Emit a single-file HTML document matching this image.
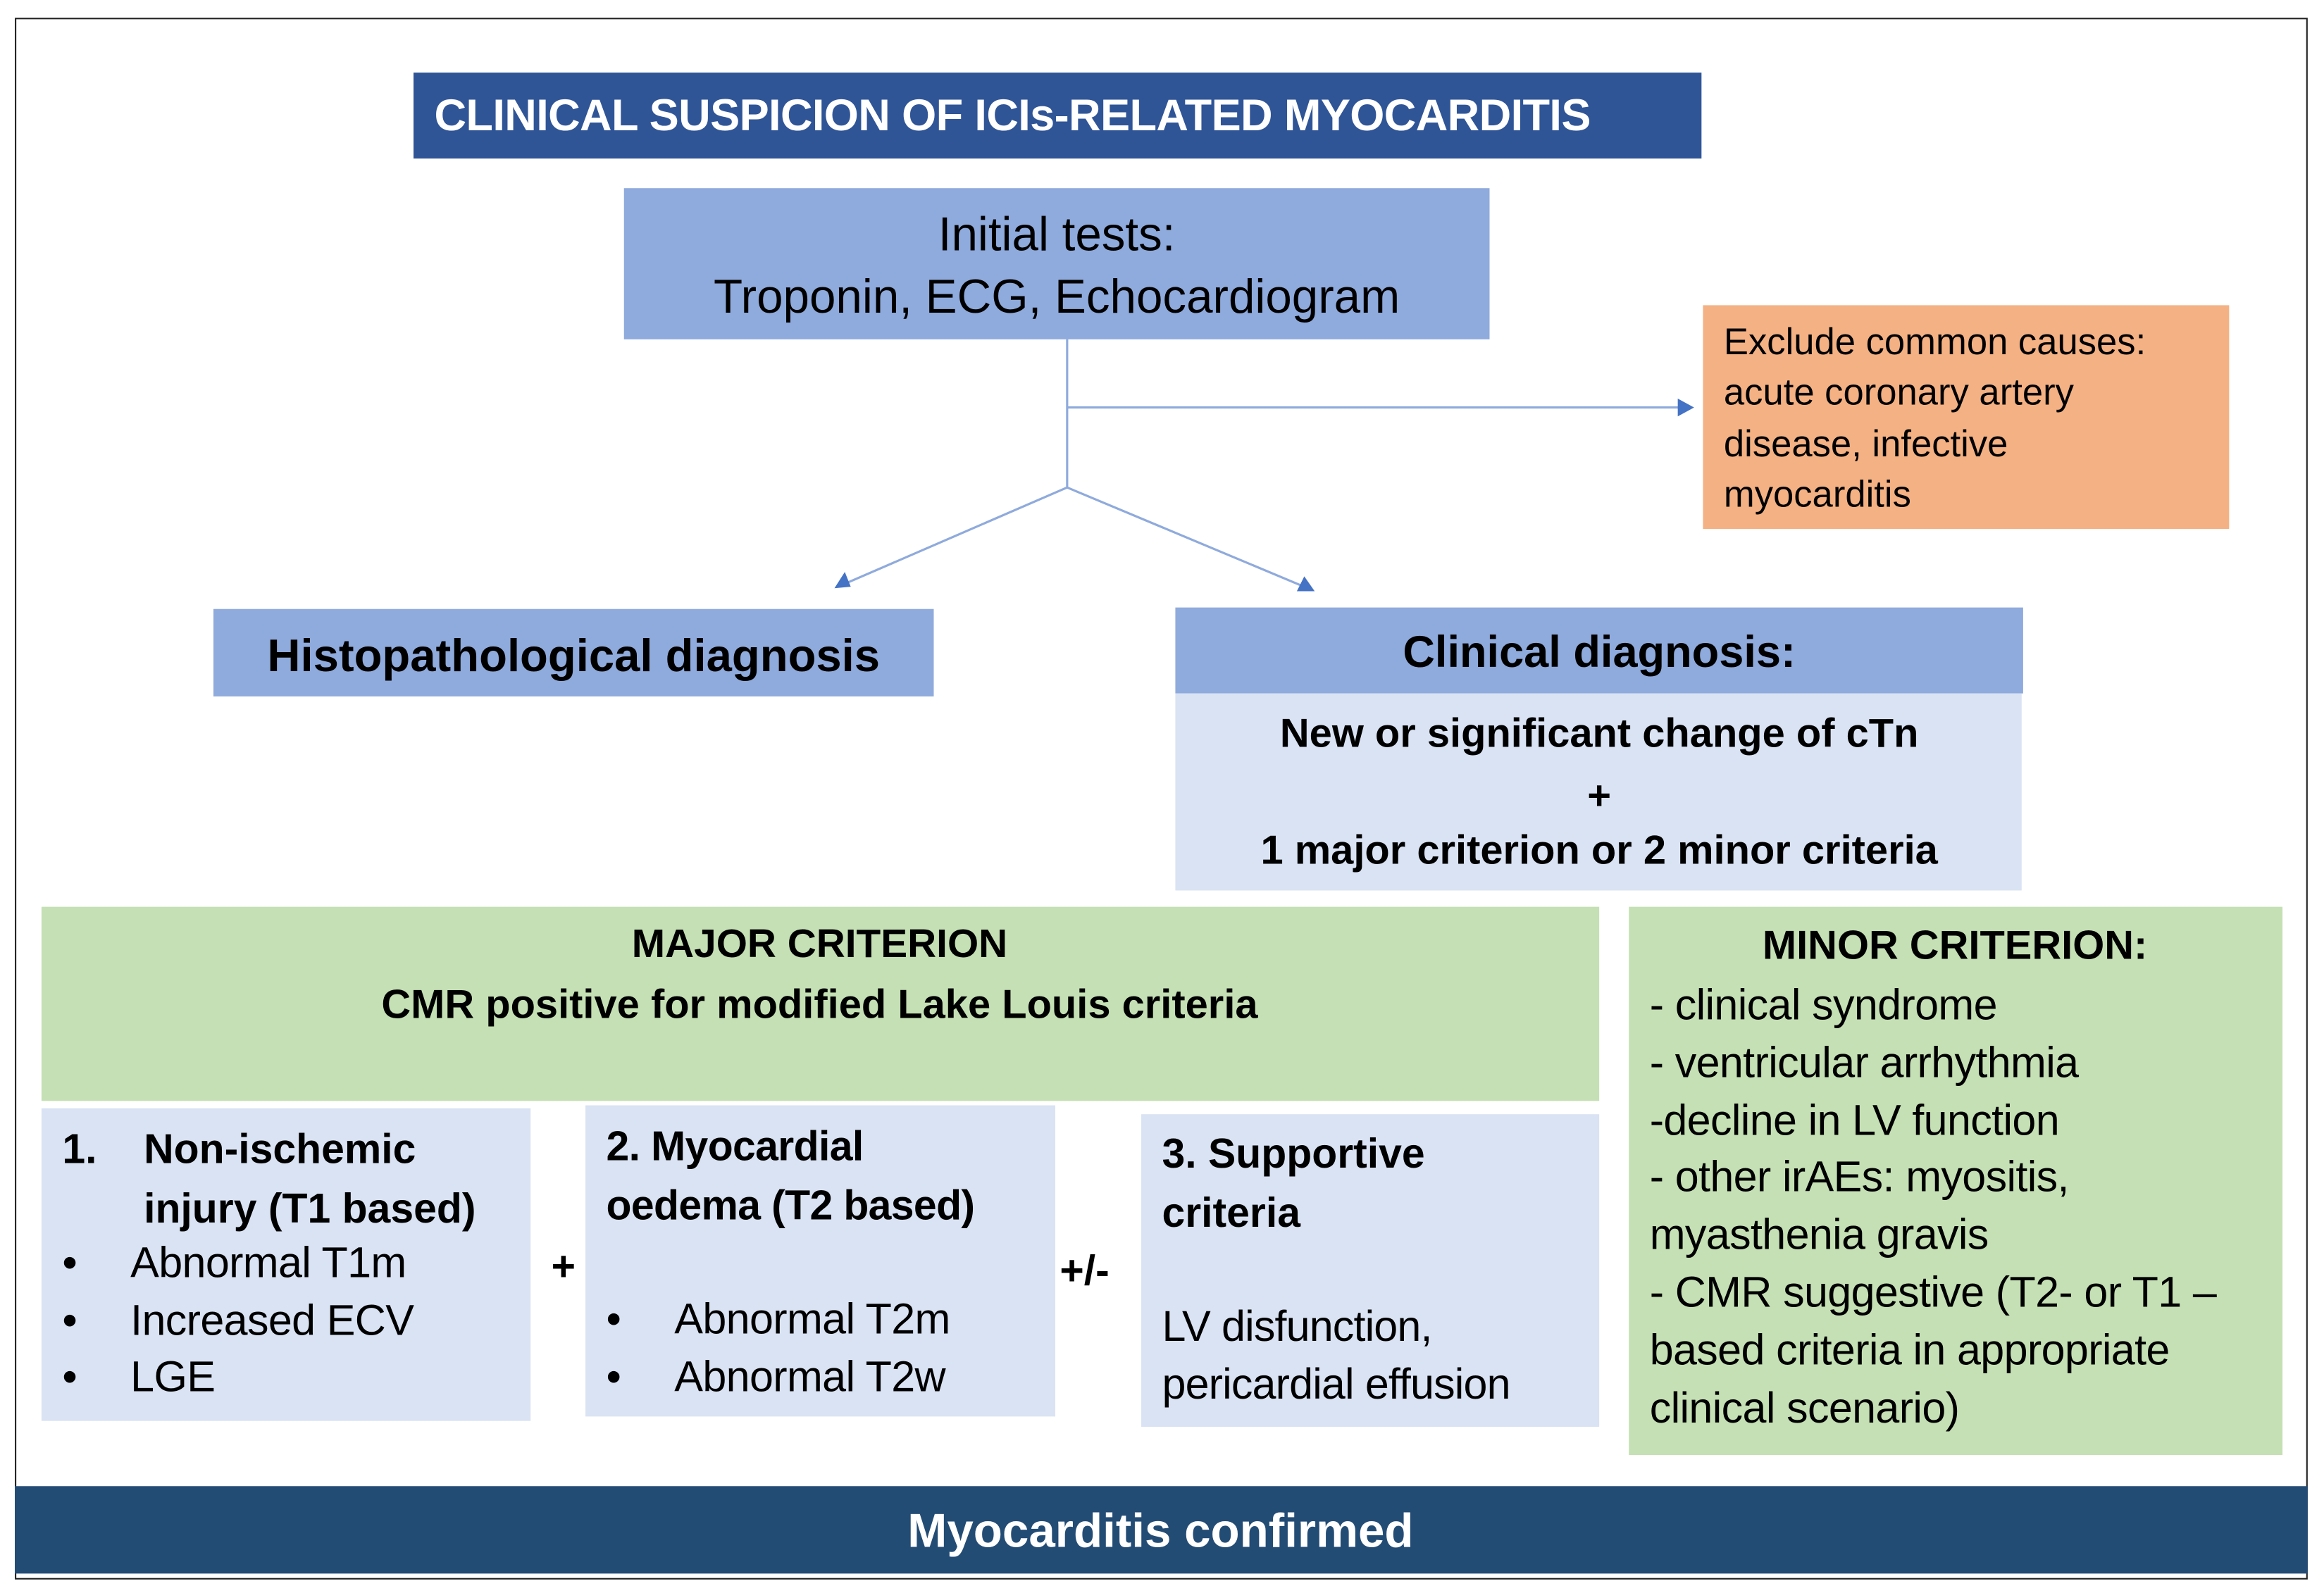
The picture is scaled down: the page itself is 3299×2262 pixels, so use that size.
<!DOCTYPE html>
<html><head><meta charset="utf-8"><style>
html,body{margin:0;padding:0;background:#fff;}
body{width:3299px;height:2262px;overflow:hidden;position:relative;}
#w{position:absolute;left:0;top:0;width:1568px;height:1075px;transform:scale(2.10395);transform-origin:0 0;font-family:"Liberation Sans",sans-serif;color:#000;}
.b{position:absolute;box-sizing:border-box;}
.t{position:absolute;white-space:nowrap;line-height:1;}
.c{transform:translateX(-50%);}
.bold{font-weight:bold;}
.bl{display:inline-block;width:46px;}
</style></head><body><div id="w">
<div class="b" style="left:10px;top:12px;width:1547px;height:1054px;border:1.5px solid #222;"></div>
<div class="b" style="left:279px;top:49px;width:869px;height:58px;background:#2F5597;"></div>
<div class="t bold" style="left:293px;top:64px;font-size:30px;color:#fff;letter-spacing:-0.3px;">CLINICAL SUSPICION OF ICIs-RELATED MYOCARDITIS</div>
<div class="b" style="left:421px;top:127px;width:584px;height:102px;background:#8FAADC;"></div>
<div class="t c" style="left:713px;top:142px;font-size:32px;">Initial tests:</div>
<div class="t c" style="left:713px;top:184px;font-size:32px;">Troponin, ECG, Echocardiogram</div>
<svg style="position:absolute;left:0;top:0" width="1568" height="1075">
<g stroke="#8FAADC" stroke-width="1.5" fill="none">
<line x1="720" y1="229" x2="720" y2="329"/>
<line x1="720" y1="275" x2="1133" y2="275"/>
<line x1="720" y1="329" x2="570" y2="394"/>
<line x1="720" y1="329" x2="880" y2="396"/>
</g>
<g fill="#4472C4">
<polygon points="1143,275 1132,269 1132,281"/>
<polygon points="563,397 574,396 570,386"/>
<polygon points="887,399 875,399 880,389"/>
</g>
</svg>
<div class="b" style="left:1149px;top:206px;width:355px;height:151px;background:#F4B183;"></div>
<div class="t" style="left:1163px;top:214px;font-size:25px;line-height:34.4px;">Exclude common causes:<br>acute coronary artery<br>disease, infective<br>myocarditis</div>
<div class="b" style="left:144px;top:411px;width:486px;height:59px;background:#8FAADC;"></div>
<div class="t c bold" style="left:387px;top:427px;font-size:31px;">Histopathological diagnosis</div>
<div class="b" style="left:793px;top:410px;width:572px;height:58px;background:#8FAADC;"></div>
<div class="t c bold" style="left:1079px;top:426px;font-size:30px;">Clinical diagnosis:</div>
<div class="b" style="left:793px;top:468px;width:571px;height:133px;background:#DAE3F3;"></div>
<div class="t c bold" style="left:1079px;top:481px;font-size:27.5px;">New or significant change of cTn</div>
<div class="t c bold" style="left:1079px;top:523px;font-size:27.5px;">+</div>
<div class="t c bold" style="left:1079px;top:560px;font-size:27.5px;">1 major criterion or 2 minor criteria</div>
<div class="b" style="left:28px;top:612px;width:1051px;height:131px;background:#C5E0B4;"></div>
<div class="t c bold" style="left:553px;top:624px;font-size:27px;">MAJOR CRITERION</div>
<div class="t c bold" style="left:553px;top:664px;font-size:27.5px;">CMR positive for modified Lake Louis criteria</div>
<div class="b" style="left:1099px;top:612px;width:441px;height:370px;background:#C5E0B4;"></div>
<div class="t c bold" style="left:1319px;top:624px;font-size:27.5px;">MINOR CRITERION:</div>
<div class="t" style="left:1113px;top:660px;font-size:29px;line-height:38.8px;letter-spacing:-0.3px;">- clinical syndrome<br>- ventricular arrhythmia<br>-decline in LV function<br>- other irAEs: myositis,<br>myasthenia gravis<br>- CMR suggestive (T2- or T1 –<br>based criteria in appropriate<br>clinical scenario)</div>
<div class="b" style="left:28px;top:748px;width:330px;height:211px;background:#DAE3F3;"></div>
<div class="t bold" style="left:42px;top:756px;font-size:28px;line-height:40px;"><span style="display:inline-block;width:55px">1.</span>Non-ischemic<br><span style="padding-left:55px">injury (T1 based)</span></div>
<div class="t" style="left:42px;top:834px;font-size:29px;line-height:38.5px;letter-spacing:-0.3px;"><span class="bl">•</span>Abnormal T1m<br><span class="bl">•</span>Increased ECV<br><span class="bl">•</span>LGE</div>
<div class="t bold" style="left:372px;top:841px;font-size:28px;">+</div>
<div class="b" style="left:395px;top:746px;width:317px;height:210px;background:#DAE3F3;"></div>
<div class="t bold" style="left:409px;top:754px;font-size:28px;line-height:40px;letter-spacing:-0.3px;">2. Myocardial<br>oedema (T2 based)</div>
<div class="t" style="left:409px;top:872px;font-size:29px;line-height:38.5px;letter-spacing:-0.3px;"><span class="bl">•</span>Abnormal T2m<br><span class="bl">•</span>Abnormal T2w</div>
<div class="t bold" style="left:715px;top:844px;font-size:28px;">+/-</div>
<div class="b" style="left:770px;top:752px;width:309px;height:211px;background:#DAE3F3;"></div>
<div class="t bold" style="left:784px;top:759px;font-size:28px;line-height:40px;">3. Supportive<br>criteria</div>
<div class="t" style="left:784px;top:877px;font-size:29px;line-height:38.5px;letter-spacing:-0.4px;">LV disfunction,<br>pericardial effusion</div>
<div class="b" style="left:10px;top:1003px;width:1547px;height:59px;background:#234C75;"></div>
<div class="t c bold" style="left:783px;top:1017px;font-size:32px;color:#fff;">Myocarditis confirmed</div>
</div></body></html>
